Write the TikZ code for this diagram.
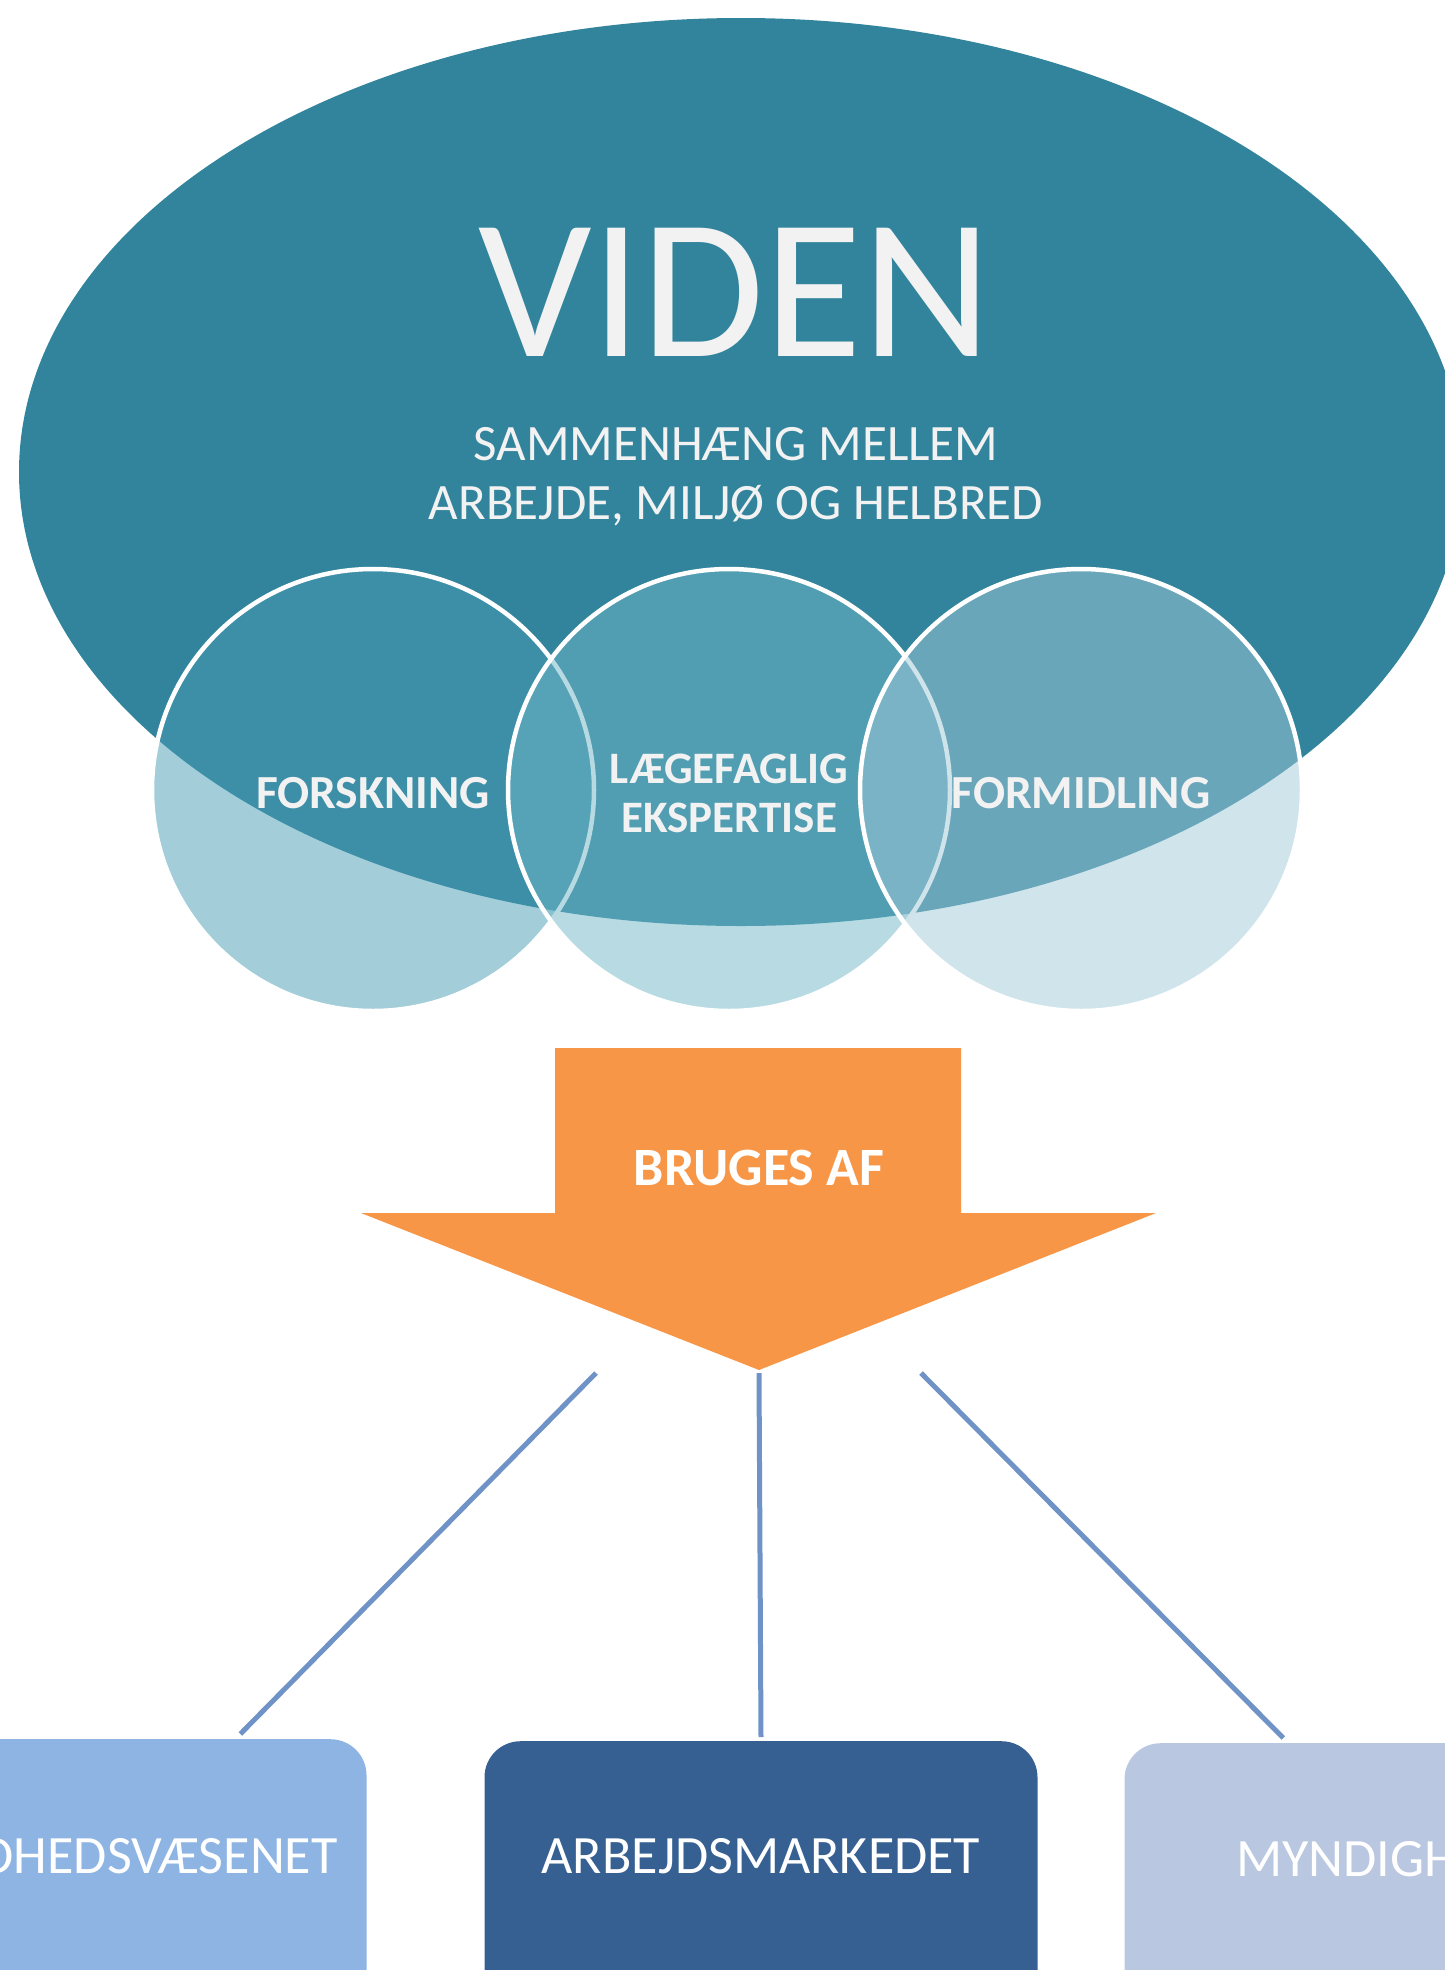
\documentclass[tikz,border=0pt]{standalone}
\usepackage{fontspec}
\setmainfont{Carlito}
\usetikzlibrary{calc}
\definecolor{ellcol}{RGB}{50,132,156}
\definecolor{cA}{RGB}{71,155,179}
\definecolor{cB}{RGB}{113,183,199}
\definecolor{cC}{RGB}{161,201,217}
\definecolor{txtw}{RGB}{242,242,242}
\definecolor{arrowcol}{RGB}{247,150,70}
\definecolor{linecol}{RGB}{111,147,198}
\definecolor{boxA}{RGB}{142,180,227}
\definecolor{boxB}{RGB}{54,96,146}
\definecolor{boxC}{RGB}{185,199,224}
\tikzset{
  venn/.style={circle, minimum size=442pt, inner sep=0pt, fill opacity=0.5, draw=white, draw opacity=1, line width=4.5pt},
  vlabel/.style={font=\bfseries\fontsize{47.5}{49}\selectfont, text=txtw, align=center, anchor=base},
  vlabelm/.style={font=\bfseries\fontsize{45}{49}\selectfont, text=txtw, align=center, anchor=base},
  boxstyle/.style={rounded corners=36pt, minimum width=553pt, minimum height=280pt, anchor=north, inner sep=0pt},
  boxtext/.style={font=\fontsize{54}{60}\selectfont, text=white, anchor=base},
  conn/.style={draw=linecol, line width=5pt},
}
\begin{document}
\begin{tikzpicture}[x=1pt,y=-1pt]
\useasboundingbox (0,0) rectangle (1445,1970);
\clip (0,0) rectangle (1445,1970);
% big ellipse
\fill[ellcol] (741,472) ellipse [x radius=722pt, y radius=454pt];
\node[font=\fontsize{200}{200}\selectfont, text=txtw, anchor=base] (viden) at (735,356) {VIDEN};
\node[font=\fontsize{51}{59}\selectfont, text=txtw, anchor=base] (sub1) at (736,460) {SAMMENHÆNG MELLEM};
\node[font=\fontsize{51}{59}\selectfont, text=txtw, anchor=base] (sub2) at (736,519) {ARBEJDE, MILJØ OG HELBRED};
% venn circles
\node[venn, fill=cA] (c1) at (373,790) {};
\node[venn, fill=cB] (c2) at (729,790) {};
\node[venn, fill=cC] (c3) at (1081,790) {};
\node[vlabel] (t1) at (373,808) {FORSKNING};
\node[vlabelm] (t2a) at (729,783) {LÆGEFAGLIG};
\node[vlabelm] (t2b) at (729,832) {EKSPERTISE};
\node[vlabel] (t3) at (1081,808) {FORMIDLING};
% arrow
\fill[arrowcol] (555,1048) -- (961,1048) -- (961,1213) -- (1156,1213) -- (759,1370) -- (361,1213) -- (555,1213) -- cycle;
\node[font=\bfseries\fontsize{54}{54}\selectfont, text=white, anchor=base] (bruges) at (759,1185) {BRUGES AF};
% boxes
\node[boxstyle, fill=boxA] (b1) at (90,1739) {};
\node[boxstyle, fill=boxB] (b2) at (761,1741) {};
\node[boxstyle, fill=boxC] (b3) at (1401,1743) {};
\node[boxtext] (bt1) at (112,1873) {SUNDHEDSVÆSENET};
\node[boxtext] (bt2) at (761,1873) {ARBEJDSMARKEDET};
\node[boxtext] (bt3) at (1405,1876) {MYNDIGHEDER};
% connectors
\coordinate (s1) at (596,1373);
\coordinate (s2) at (759,1373);
\coordinate (s3) at (921,1373);
\coordinate (e1) at ($(b1.north west)+(427,-5)$);
\coordinate (e3) at ($(b3.north west)+(159,-5)$);
\draw[conn] (s1) -- (e1);
\draw[conn] (s2) -- ($(b2.north)+(0,-4)$);
\draw[conn] (s3) -- (e3);
\end{tikzpicture}
\end{document}
